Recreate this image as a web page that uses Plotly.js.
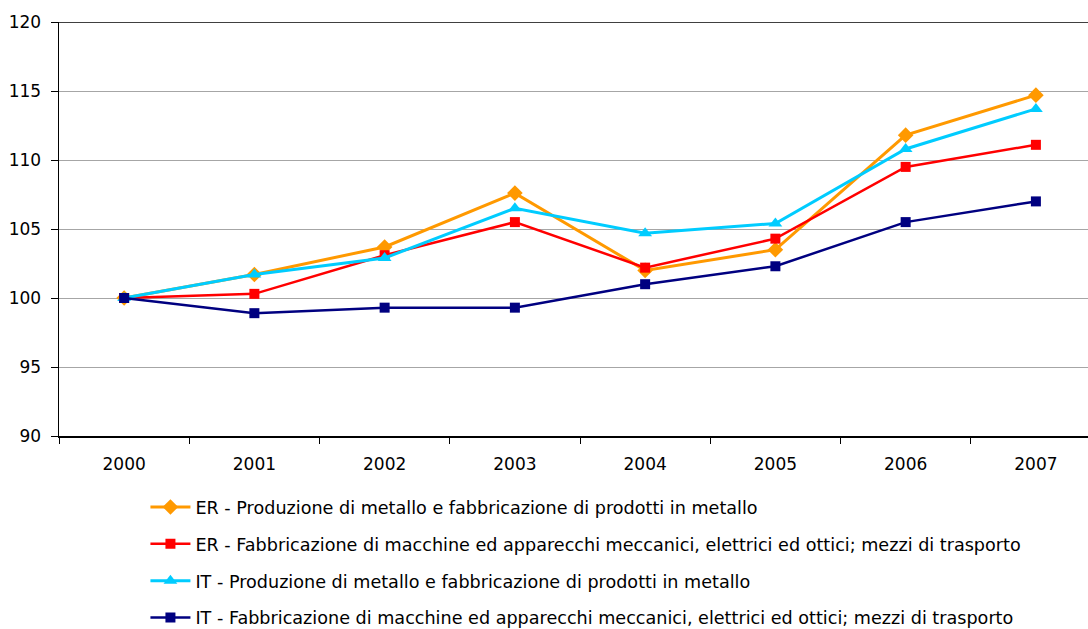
<!DOCTYPE html>
<html>
<head>
<meta charset="utf-8">
<script src="https://cdn.plot.ly/plotly-3.0.1.min.js"></script>
<style>html,body{margin:0;padding:0;background:#fff;}#chart{width:1088px;height:629px;}</style>
</head>
<body>
<div id="chart"></div>
<script>
const years = ['2000','2001','2002','2003','2004','2005','2006','2007'];
const erMetallo = [100, 101.7, 103.7, 107.6, 102.0, 103.5, 111.8, 114.7];
const erMacchine = [100, 100.3, 103.1, 105.5, 102.2, 104.3, 109.5, 111.1];
const itMetallo = [100, 101.7, 102.9, 106.5, 104.7, 105.4, 110.8, 113.7];
const itMacchine = [100, 98.9, 99.3, 99.3, 101.0, 102.3, 105.5, 107.0];
const names = [
  'ER - Produzione di metallo e fabbricazione di prodotti in metallo',
  'ER - Fabbricazione di macchine ed apparecchi meccanici, elettrici ed ottici; mezzi di trasporto',
  'IT - Produzione di metallo e fabbricazione di prodotti in metallo',
  'IT - Fabbricazione di macchine ed apparecchi meccanici, elettrici ed ottici; mezzi di trasporto'
];
const FONT = '"DejaVu Sans", Verdana, sans-serif';
function tr(y, name, color, symbol, size, width, g){
  return {x: years, y: y, name: name, type: 'scatter', mode: 'lines+markers',
    line: {color: color, width: width}, marker: {color: color, symbol: symbol, size: size},
    legendgroup: g};
}
const data = [
  tr(erMetallo, names[0], '#FF9900', 'diamond', 12, 3, 'a'),
  tr(erMacchine, names[1], '#FF0000', 'square', 10, 2.5, 'b'),
  tr(itMetallo, names[2], '#00CCFF', 'triangle-up', 12, 3, 'c'),
  tr(itMacchine, names[3], '#000080', 'square', 10, 2.5, 'd')
];
const layout = {
  width: 1088, height: 629,
  margin: {l: 59, r: 0, t: 22, b: 193, autoexpand: false},
  paper_bgcolor: '#fff', plot_bgcolor: '#fff',
  font: {family: FONT, size: 17, color: '#000'},
  showlegend: true,
  legend: {x: 0.084, xanchor: 'left', y: -0.128, yanchor: 'top', yref: 'paper',
    orientation: 'v', tracegroupgap: 11, font: {family: FONT, size: 17.6, color: '#000'},
    bgcolor: 'rgba(0,0,0,0)', itemwidth: 40},
  xaxis: {type: 'category', range: [-0.5, 7.4], tickson: 'boundaries',
    ticks: 'outside', ticklen: 6, tickcolor: '#000', tickwidth: 1,
    showline: true, linecolor: '#000', linewidth: 1.5, showgrid: false, zeroline: false,
    tickfont: {family: FONT, size: 17, color: '#000'}, ticklabelstandoff: 12, fixedrange: true},
  yaxis: {range: [90, 120], tickvals: [90,95,100,105,110,115,120],
    ticks: 'outside', ticklen: 7, tickcolor: '#000', tickwidth: 1,
    showline: true, linecolor: '#000', linewidth: 1.5,
    showgrid: true, gridcolor: '#a6a6a6', gridwidth: 1, zeroline: false,
    tickfont: {family: FONT, size: 17, color: '#000'}, ticklabelstandoff: 6, fixedrange: true},
  shapes: [{type: 'line', xref: 'paper', yref: 'y', x0: 0, x1: 1, y0: 120, y1: 120,
    line: {color: '#000', width: 1.5}}]
};
Plotly.newPlot('chart', data, layout, {displayModeBar: false, staticPlot: true});
</script>
</body>
</html>
